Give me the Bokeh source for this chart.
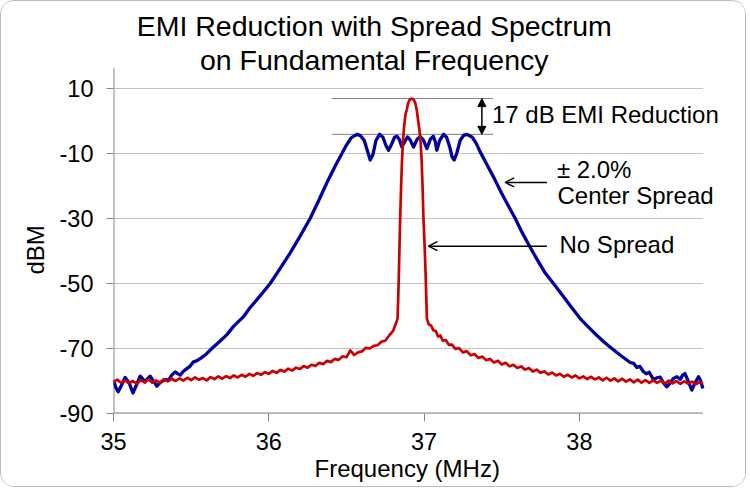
import math
from bokeh.plotting import figure
from bokeh.models import Label, Arrow, OpenHead, NormalHead, FixedTicker, Range1d, Title
from bokeh.embed import file_html
from bokeh.resources import INLINE

FONT = "Liberation Sans"

title_lines = ["EMI Reduction with Spread Spectrum", "on Fundamental Frequency"]
x_label = "Frequency (MHz)"
y_label = "dBM"
x_ticks = [35, 36, 37, 38]
y_ticks = [-90, -70, -50, -30, -10, 10]
x_min, x_max = 35.0, 38.795
y_min, y_axis_top = -90.0, 16.25

# Spread-spectrum (+/-2.0% center spread) trace
blue_freq = [35.000, 35.015, 35.030, 35.050, 35.075, 35.100, 35.125, 35.150, 35.172, 35.190,
             35.204, 35.220, 35.236, 35.260, 35.279, 35.300, 35.322, 35.340, 35.354, 35.375,
             35.397, 35.415, 35.430, 35.450, 35.472, 35.490, 35.515, 35.535, 35.558, 35.600,
             35.633, 35.680, 35.729, 35.773, 35.837, 35.880, 35.944, 36.009, 36.070, 36.138,
             36.200, 36.266, 36.320, 36.374, 36.430, 36.471, 36.500, 36.530, 36.567, 36.590,
             36.615, 36.635, 36.653, 36.670, 36.690, 36.713, 36.735, 36.755, 36.771, 36.790,
             36.810, 36.825, 36.840, 36.857, 36.875, 36.893, 36.910, 36.932, 36.955, 36.975,
             36.995, 37.018, 37.040, 37.060, 37.072, 37.082, 37.100, 37.125, 37.145, 37.165,
             37.180, 37.194, 37.210, 37.232, 37.255, 37.276, 37.310, 37.335, 37.361, 37.400,
             37.450, 37.500, 37.550, 37.587, 37.630, 37.680, 37.730, 37.780, 37.833, 37.898,
             37.950, 38.005, 38.060, 38.113, 38.160, 38.209, 38.270, 38.327, 38.350, 38.370,
             38.390, 38.410, 38.430, 38.450, 38.477, 38.500, 38.520, 38.540, 38.563, 38.585,
             38.605, 38.628, 38.650, 38.665, 38.680, 38.700, 38.724, 38.745, 38.767, 38.780,
             38.795]
blue_dbm = [-79.8, -82.0, -83.3, -81.5, -78.9, -80.5, -83.7, -81.0, -78.5, -79.5,
            -80.3, -79.2, -78.5, -80.2, -81.6, -80.5, -79.8, -79.6, -79.8, -78.2,
            -77.2, -77.8, -78.2, -77.0, -76.2, -75.6, -74.1, -73.8, -73.1, -71.6,
            -70.0, -68.0, -65.8, -63.2, -60.2, -57.4, -53.8, -50.0, -45.6, -40.6,
            -35.6, -30.0, -24.6, -19.0, -13.6, -10.0, -7.4, -5.2, -4.1, -4.5,
            -6.0, -9.2, -12.0, -10.4, -6.0, -4.1, -5.0, -7.6, -9.0, -7.2,
            -5.0, -4.7, -5.6, -8.0, -6.4, -4.9, -5.8, -8.0, -5.6, -4.8,
            -5.8, -8.5, -5.6, -4.7, -6.4, -9.0, -6.0, -4.1, -5.0, -8.0,
            -11.0, -12.0, -10.0, -6.0, -4.4, -4.1, -5.0, -6.8, -9.5, -13.0,
            -17.5, -22.3, -26.8, -30.0, -34.2, -38.6, -42.8, -46.8, -50.0, -54.1,
            -57.4, -60.8, -63.5, -66.0, -68.1, -70.0, -72.3, -74.3, -74.6, -75.8,
            -75.5, -77.0, -77.8, -77.3, -79.6, -79.0, -78.8, -80.5, -81.8, -80.6,
            -79.2, -78.7, -79.5, -78.2, -77.7, -80.0, -82.8, -80.5, -78.7, -79.8,
            -82.3]

# No-spread trace
red_freq = [35.000, 35.025, 35.050, 35.075, 35.100, 35.125, 35.150, 35.175, 35.200, 35.225,
            35.250, 35.275, 35.300, 35.325, 35.350, 35.375, 35.400, 35.425, 35.450, 35.475,
            35.500, 35.525, 35.550, 35.575, 35.600, 35.625, 35.650, 35.675, 35.700, 35.725,
            35.750, 35.775, 35.800, 35.825, 35.850, 35.875, 35.900, 35.925, 35.950, 35.975,
            36.000, 36.025, 36.050, 36.075, 36.100, 36.125, 36.150, 36.175, 36.200, 36.225,
            36.250, 36.275, 36.300, 36.325, 36.350, 36.375, 36.400, 36.425, 36.450, 36.475,
            36.500, 36.525, 36.550, 36.575, 36.600, 36.625, 36.650, 36.675, 36.700, 36.725,
            36.750, 36.775, 36.800, 36.815, 36.829, 36.833, 36.837, 36.842, 36.846, 36.852,
            36.858, 36.864, 36.872, 36.880, 36.889, 36.898, 36.908, 36.921, 36.933, 36.943,
            36.953, 36.962, 36.970, 36.977, 36.984, 36.990, 36.996, 37.003, 37.009, 37.014,
            37.018, 37.030, 37.045, 37.060, 37.075, 37.090, 37.105, 37.120, 37.140, 37.160,
            37.180, 37.200, 37.225, 37.250, 37.275, 37.300, 37.325, 37.350, 37.375, 37.400,
            37.425, 37.450, 37.475, 37.500, 37.525, 37.550, 37.575, 37.600, 37.625, 37.650,
            37.675, 37.700, 37.725, 37.750, 37.775, 37.800, 37.825, 37.850, 37.875, 37.900,
            37.925, 37.950, 37.975, 38.000, 38.025, 38.050, 38.075, 38.100, 38.125, 38.150,
            38.175, 38.200, 38.225, 38.250, 38.275, 38.300, 38.325, 38.350, 38.375, 38.400,
            38.425, 38.450, 38.475, 38.500, 38.525, 38.550, 38.575, 38.600, 38.625, 38.650,
            38.675, 38.700, 38.725, 38.750, 38.775, 38.795]
red_dbm = [-80.3, -79.6, -80.6, -79.9, -80.7, -80.0, -80.9, -79.7, -80.4, -79.5,
           -80.5, -79.8, -80.6, -79.4, -80.1, -79.3, -80.0, -79.2, -79.9, -79.0,
           -79.7, -78.9, -79.6, -79.1, -79.8, -78.8, -79.4, -78.6, -79.3, -78.5,
           -79.1, -78.3, -78.9, -78.1, -78.7, -77.8, -78.4, -77.6, -78.1, -77.3,
           -77.8, -76.9, -77.5, -76.6, -77.1, -76.2, -76.8, -75.9, -76.3, -75.4,
           -75.9, -75.0, -75.4, -74.4, -74.8, -73.8, -74.2, -73.2, -73.5, -72.4,
           -72.7, -70.6, -72.0, -71.2, -70.9, -69.8, -70.0, -69.2, -69.0, -67.9,
           -67.6, -66.0, -64.6, -62.8, -60.8, -55.0, -48.0, -38.0, -30.0, -20.0,
           -12.0, -6.0, -1.5, 2.0, 3.6, 5.6, 6.6, 6.9, 6.6, 5.6,
           3.3, 0.0, -2.8, -6.0, -12.0, -20.0, -30.0, -38.0, -46.0, -54.0,
           -60.8, -62.6, -62.9, -64.4, -64.6, -66.3, -66.0, -67.6, -67.4, -68.9,
           -68.8, -70.1, -69.9, -71.2, -70.8, -72.1, -71.7, -72.9, -72.5, -73.6,
           -73.2, -74.3, -73.8, -74.9, -74.4, -75.5, -75.0, -76.0, -75.5, -76.5,
           -76.0, -77.1, -76.5, -77.5, -77.0, -78.0, -77.4, -78.3, -77.8, -78.7,
           -78.1, -78.9, -78.3, -79.2, -78.6, -79.4, -78.7, -79.5, -78.9, -79.8,
           -79.0, -79.9, -79.2, -80.1, -79.3, -80.2, -79.5, -80.4, -79.6, -80.5,
           -79.7, -80.6, -79.8, -80.6, -79.9, -80.8, -79.9, -80.7, -80.0, -80.9,
           -80.1, -80.8, -80.2, -81.0, -80.3, -80.9]

W, H = 746, 487
ML, MR, MT, MB = 112, 2, 2, 75
PX_PER_MHZ = 155.3
PX_PER_DB = 3.25
x_end = x_min + (W - ML - MR) / PX_PER_MHZ
y_end = y_min + (H - MT - MB) / PX_PER_DB

p = figure(width=W, height=H, x_range=Range1d(x_min, x_end), y_range=Range1d(y_min, y_end),
           output_backend="svg", toolbar_location=None,
           min_border_left=ML, min_border_right=MR, min_border_top=MT, min_border_bottom=MB)
p.outline_line_color = None
p.background_fill_color = "white"
p.border_fill_color = "white"
p.styles = {"border": "1px solid #BDBDBD", "border-radius": "14px", "overflow": "hidden"}

p.xgrid.visible = False
p.ygrid.visible = False

p.xaxis.ticker = FixedTicker(ticks=x_ticks)
p.yaxis.ticker = FixedTicker(ticks=y_ticks)
p.yaxis.major_label_overrides = {t: str(t) for t in y_ticks}
for ax in (p.xaxis[0], p.yaxis[0]):
    ax.axis_line_color = None
    ax.major_tick_line_color = "#868686"
    ax.minor_tick_line_color = None
    ax.major_tick_in = 0
    ax.major_label_text_font = FONT
    ax.major_label_text_font_size = "23.5px"
    ax.major_label_text_color = "black"
p.xaxis.major_tick_out = 8
p.yaxis.major_tick_out = 7
p.xaxis.major_label_standoff = 11
p.yaxis.major_label_standoff = 13

# horizontal grid lines and axis lines over the plotted span
p.segment(x0=[x_min] * len(y_ticks), x1=[x_max] * len(y_ticks), y0=y_ticks, y1=y_ticks,
          line_color="#C4C4C4", line_width=1)
p.segment(x0=[x_min], x1=[x_max], y0=[y_min], y1=[y_min], line_color="#868686", line_width=2)
p.segment(x0=[x_min], x1=[x_min], y0=[y_min], y1=[y_axis_top], line_color="#868686", line_width=2)

# reference lines at the two peak levels
red_peak = max(red_dbm)
blue_peak = max(blue_dbm)
p.segment(x0=[36.406, 36.406], x1=[37.445, 37.445], y0=[red_peak, blue_peak], y1=[red_peak, blue_peak],
          line_color="#808080", line_width=1)

p.line(blue_freq, blue_dbm, line_color="#0000A0", line_width=3.3, line_join="round")
p.line(red_freq, red_dbm, line_color="#CC0000", line_width=2.7, line_join="round")

# arrows
p.add_layout(Arrow(x_start=37.372, y_start=red_peak, x_end=37.372, y_end=blue_peak,
                   start=NormalHead(size=8, fill_color="black", line_color="black"),
                   end=NormalHead(size=8, fill_color="black", line_color="black"),
                   line_color="black", line_width=1.5))
p.add_layout(Arrow(x_start=37.791, y_start=-18.9, x_end=37.522, y_end=-18.9,
                   end=OpenHead(size=9, line_color="black", line_width=1.5),
                   line_color="black", line_width=1.5))
p.add_layout(Arrow(x_start=37.791, y_start=-38.5, x_end=37.028, y_end=-38.5,
                   end=OpenHead(size=9, line_color="black", line_width=1.5),
                   line_color="black", line_width=1.5))

def lab(x, y, text, size, align="left"):
    p.add_layout(Label(x=x, y=y, text=text, text_font=FONT, text_font_size=size,
                       text_color="black", text_align=align, text_baseline="alphabetic"))

lab(37.437, 1.9, "17 dB EMI Reduction", "24px")
lab(37.855, -14.8, "\u00b1 2.0%", "24px")
lab(37.859, -22.8, "Center Spread", "24px")
lab(37.872, -38.1, "No Spread", "24px")
lab(36.679, 29.2, title_lines[0], "28.5px", align="center")
lab(36.679, 18.7, title_lines[1], "28.5px", align="center")

p.add_layout(Title(text=x_label, align="left", offset=201, text_font=FONT,
                   text_font_size="24px", text_font_style="normal", text_color="black",
                   standoff=0), "below")
p.add_layout(Title(text=y_label, align="left", offset=139, text_font=FONT,
                   text_font_size="24px", text_font_style="normal", text_color="black",
                   standoff=15), "left")

open("out.html", "w").write(file_html(p, INLINE))
